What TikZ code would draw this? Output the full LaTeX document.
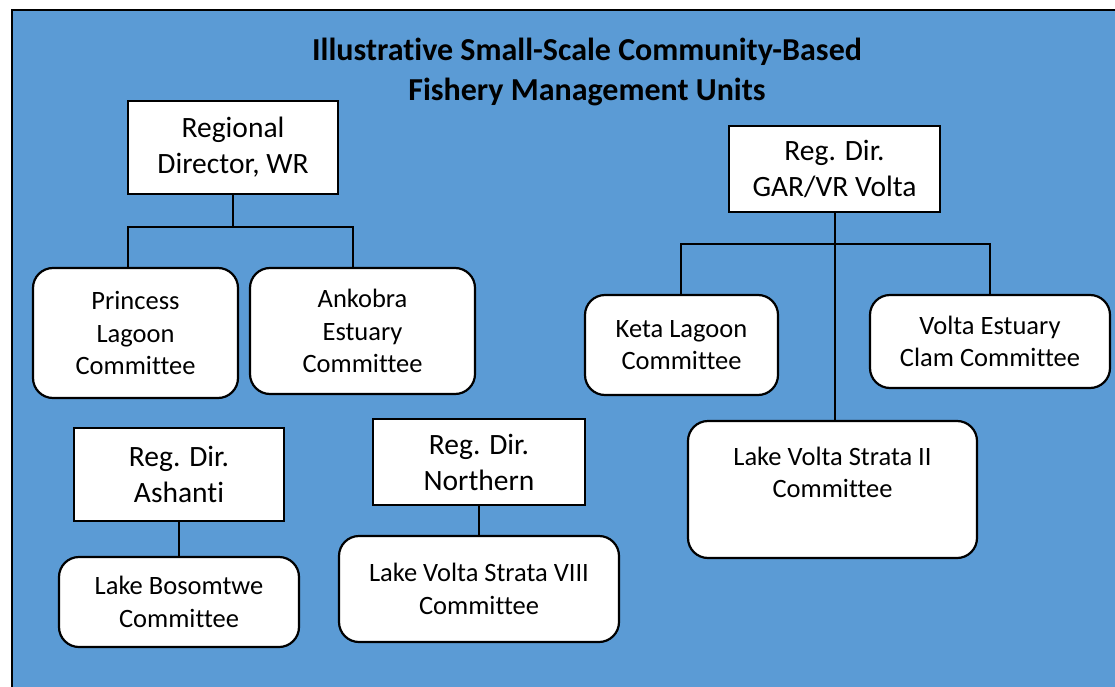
\documentclass[tikz,border=0pt]{standalone}
\usepackage{fontspec}
\setmainfont{Carlito}[Ligatures=NoCommon]
\usepackage{tikz}

\definecolor{unitblue}{HTML}{5B9BD5}
\tikzset{
  dirbox/.style={draw, fill=white, line width=2.2pt, rectangle, align=center,
    font=\fontsize{29.5}{36}\selectfont, inner sep=0pt},
  combox/.style={draw, fill=white, line width=2.2pt, rectangle, rounded corners=20pt,
    align=center, font=\fontsize{26.5}{32.5}\selectfont, inner sep=0pt},
  link/.style={line width=2pt}
}

\begin{document}
\begin{tikzpicture}[x=1pt, y=-1pt]
\clip (0,0) rectangle (1115,687);
\useasboundingbox (0,0) rectangle (1115,687);
\fill[white] (0,0) rectangle (1115,687);
\draw[fill=unitblue, line width=2.2pt] (12,10) rectangle (1140,710);

\node (title) at (587, 72) [align=center, font=\bfseries\fontsize{32}{40}\selectfont]
  {Illustrative Small-Scale Community-Based\\Fishery Management Units};

% western region
\node (wr) at (233, 147.5) [dirbox, minimum width=210pt, minimum height=93pt] {Regional\\Director, WR};
\node (princess) at (135.5, 333) [combox, minimum width=205pt, minimum height=130pt] {Princess\\Lagoon\\Committee};
\node (ankobra) at (362.5, 331) [combox, minimum width=225pt, minimum height=126pt] {Ankobra\\Estuary\\Committee};
\coordinate (wrL) at (128, 227);
\coordinate (wrR) at (353, 227);
\draw[link] (wr.south) -- (wr.south |- wrL);
\draw[link] (princess.north -| wrL) -- (wrL) -- (wrR) -- (ankobra.north -| wrR);

% greater accra / volta
\node (gar) at (834.5, 169) [dirbox, minimum width=211pt, minimum height=86pt] {Reg. Dir.\\GAR/VR Volta};
\node (keta) at (681.5, 345) [combox, minimum width=193pt, minimum height=100pt] {Keta Lagoon\\Committee};
\node (estuary) at (990, 341.5) [combox, minimum width=240pt, minimum height=93pt] {Volta Estuary\\Clam Committee};
\node (strata2) at (832.5, 489.5) [combox, minimum width=289pt, minimum height=137pt] {Lake Volta Strata II\\Committee\\[2pt] \mbox{}};
\coordinate (garL) at (681, 244);
\coordinate (garR) at (990, 244);
\draw[link] (gar.south) -- (gar.south |- strata2.north);
\draw[link] (keta.north -| garL) -- (garL) -- (garR) -- (estuary.north -| garR);

% ashanti
\node (ashanti) at (179, 474.5) [dirbox, minimum width=210pt, minimum height=93pt] {Reg. Dir.\\Ashanti};
\node (bosomtwe) at (179, 602) [combox, minimum width=240pt, minimum height=90pt] {Lake Bosomtwe\\Committee};
\draw[link] (ashanti) -- (bosomtwe);

% northern
\node (northern) at (479, 462) [dirbox, minimum width=212pt, minimum height=86pt] {Reg. Dir.\\Northern};
\node (strata8) at (479, 589) [combox, minimum width=280pt, minimum height=106pt] {Lake Volta Strata VIII\\Committee};
\draw[link] (northern) -- (strata8);
\end{tikzpicture}
\end{document}
